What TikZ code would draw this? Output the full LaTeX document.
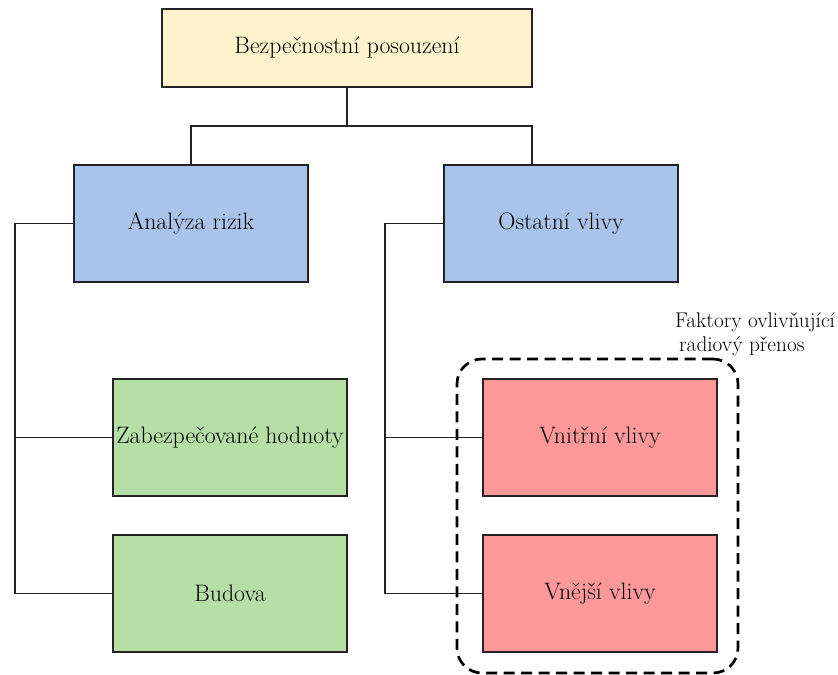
\documentclass[tikz,border=0pt]{standalone}
\usepackage{fontspec}
\setmainfont{Latin Modern Roman}
\definecolor{cyellow}{HTML}{FFF2CC}
\definecolor{cblue}{HTML}{A9C4EB}
\definecolor{cgreen}{HTML}{B5DFA6}
\definecolor{cred}{HTML}{FF9999}
\definecolor{cline}{HTML}{222222}
\begin{document}
\begin{tikzpicture}[x=1bp,y=-1bp,
  box/.style={draw=cline, line width=1.7bp, minimum width=234bp, minimum height=117bp,
    inner sep=0pt, font=\fontsize{23.8bp}{28bp}\selectfont, text=black},
  conn/.style={draw=cline, line width=1.7bp},
  groupbox/.style={draw=black, line width=2.7bp, dash pattern=on 11bp off 6.5bp,
    rounded corners=25bp, minimum width=281bp, minimum height=314bp, inner sep=0pt},
  lbl/.style={inner sep=0pt, font=\fontsize{21.3bp}{25bp}\selectfont, text=black, anchor=base west},
]
\useasboundingbox (0,0) rectangle (838,675);
% group box
\node[groupbox] (grp) at (597.5,516) {};
% boxes
\node[box, fill=cyellow, minimum width=370bp, minimum height=78bp] (top) at (347,48) {Bezpečnostní posouzení};
\node[box, fill=cblue] (ana) at (191,223.5) {Analýza rizik};
\node[box, fill=cblue] (ost) at (561,223.5) {Ostatní vlivy};
\node[box, fill=cgreen] (zab) at (230,437.5) {Zabezpečované hodnoty};
\node[box, fill=cgreen] (bud) at (230,593.5) {Budova};
\node[box, fill=cred] (vni) at (600,437.5) {Vnitřní vlivy};
\node[box, fill=cred] (vne) at (600,593.5) {Vnější vlivy};
% label
\node[lbl] (lab1) at (675,327) {Faktory ovlivňující};
\node[lbl] (lab2) at (679,351) {radiový přenos};
% connectors
\coordinate (j1) at ([yshift=-38bp]top.south);
\draw[conn] (top.south) -- (j1);
\draw[conn] (ana.north) |- (j1) -| ([xshift=-29bp]ost.north);
\draw[conn] (ana.west) -- ++(-58,0) |- (bud.west);
\draw[conn] (zab.west) -- ++(-97,0);
\draw[conn] (ost.west) -- ++(-58,0) |- (vne.west);
\draw[conn] (vni.west) -- ++(-97,0);
\end{tikzpicture}
\end{document}
